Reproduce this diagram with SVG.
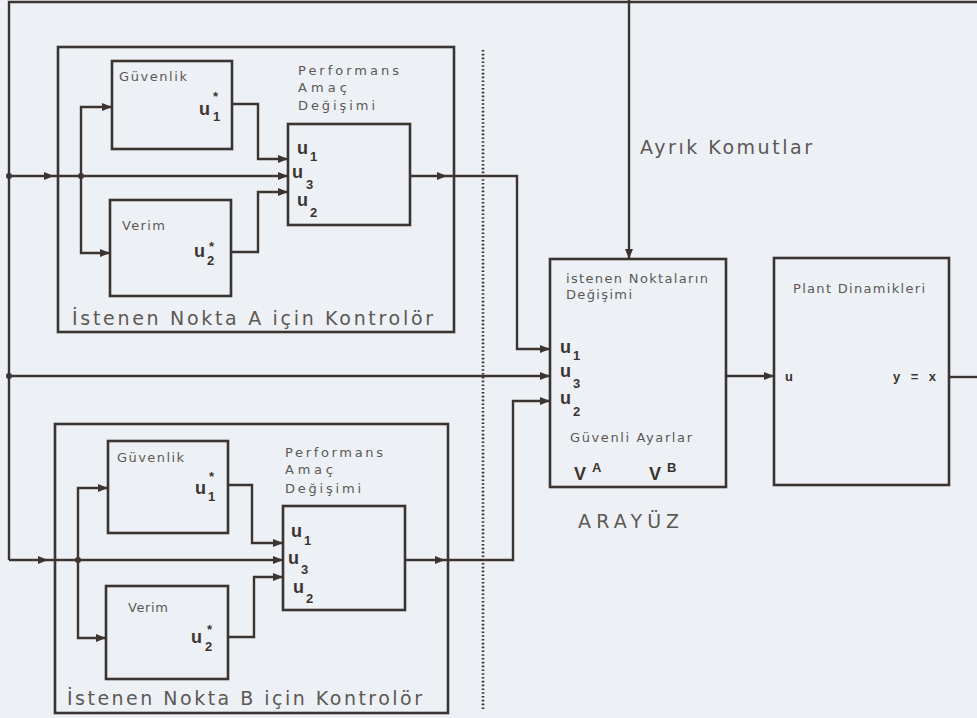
<svg xmlns="http://www.w3.org/2000/svg" width="977" height="718" viewBox="0 0 977 718">
<defs>
<style>
.bg{fill:#edf1f5}
.box{fill:none;stroke:#3b3431;stroke-width:2.6}
.ln{fill:none;stroke:#3b3431;stroke-width:2.4}
.dot{fill:none;stroke:#3b3431;stroke-width:2.6;stroke-dasharray:1.6 2.2}
.jn{fill:#3b3431}
.lbl{font-family:"DejaVu Sans","Liberation Sans",sans-serif;fill:#5c5855;font-size:13px}
.big{font-family:"DejaVu Sans","Liberation Sans",sans-serif;fill:#5c5855;font-size:19px}
.u{font-family:"Liberation Sans",Arial,sans-serif;fill:#3b3431;font-weight:bold;font-size:18px}
.s{font-family:"Liberation Sans",Arial,sans-serif;fill:#3b3431;font-weight:bold;font-size:13px}
</style>
<marker id="ah" viewBox="0 0 10 8" refX="10" refY="4" markerWidth="10" markerHeight="8" markerUnits="userSpaceOnUse" orient="auto">
<path d="M0,0 L10,4 L0,8 z" fill="#3b3431"/>
</marker>
</defs>
<rect class="bg" x="0" y="0" width="977" height="718"/>

<g id="connectors">
<path class="ln" d="M977,2 H9 V560"/>
<path class="ln" d="M9,560 H48" marker-end="url(#ah)"/>
<path class="ln" d="M48,560 H283" marker-end="url(#ah)"/>
<path class="ln" d="M9,176 H54" marker-end="url(#ah)"/>
<path class="ln" d="M54,176 H288" marker-end="url(#ah)"/>
<path class="ln" d="M9,376 H550" marker-end="url(#ah)"/>
<path class="ln" d="M629,0 V259" marker-end="url(#ah)"/>
<path class="ln" d="M81,176 V107 H112" marker-end="url(#ah)"/>
<path class="ln" d="M81,176 V253 H110" marker-end="url(#ah)"/>
<path class="ln" d="M232,104 H258 V159 H288" marker-end="url(#ah)"/>
<path class="ln" d="M231,252 H258 V192 H288" marker-end="url(#ah)"/>
<path class="ln" d="M410,176 H447" marker-end="url(#ah)"/>
<path class="ln" d="M447,176 H517 V349 H550" marker-end="url(#ah)"/>
<path class="ln" d="M78,560 V488 H108" marker-end="url(#ah)"/>
<path class="ln" d="M78,560 V638 H106" marker-end="url(#ah)"/>
<path class="ln" d="M228,485 H252 V543 H283" marker-end="url(#ah)"/>
<path class="ln" d="M228,637 H254 V577 H283" marker-end="url(#ah)"/>
<path class="ln" d="M405,560 H445" marker-end="url(#ah)"/>
<path class="ln" d="M445,560 H513 V401 H550" marker-end="url(#ah)"/>
<path class="ln" d="M726,376 H774" marker-end="url(#ah)"/>
<path class="ln" d="M949,377 H977"/>
<path class="dot" d="M483,50 V710"/>
<circle class="jn" cx="9" cy="176" r="3"/>
<circle class="jn" cx="81" cy="176" r="3"/>
<circle class="jn" cx="9" cy="376" r="3"/>
<circle class="jn" cx="78" cy="560" r="3"/>
</g>

<g id="controllerA">
<rect class="box" x="58" y="47" width="396" height="285"/>
<text class="big" x="72" y="325" textLength="361" lengthAdjust="spacing">İstenen Nokta A için Kontrolör</text>
</g>
<g id="guvenlikA">
<rect class="box" x="112" y="61" width="120" height="88"/>
<text class="lbl" x="119" y="81" textLength="68" lengthAdjust="spacing">Güvenlik</text>
<text class="u" x="199" y="115">u</text>
<text class="s"><tspan x="213" y="121">1</tspan><tspan x="213" y="101">*</tspan></text>
</g>
<g id="verimA">
<rect class="box" x="110" y="200" width="121" height="96"/>
<text class="lbl" x="122" y="230" textLength="43" lengthAdjust="spacing">Verim</text>
<text class="u" x="194" y="257">u</text>
<text class="s"><tspan x="207" y="265">2</tspan><tspan x="209" y="251">*</tspan></text>
</g>
<g id="padA">
<text class="lbl" x="298" y="75" textLength="101" lengthAdjust="spacing">Performans</text>
<text class="lbl" x="298" y="92" textLength="49" lengthAdjust="spacing">Amaç</text>
<text class="lbl" x="298" y="110" textLength="77" lengthAdjust="spacing">Değişimi</text>
<rect class="box" x="288" y="124" width="122" height="101"/>
<text class="u" x="297" y="154">u</text><text class="s" x="310" y="161">1</text>
<text class="u" x="292" y="178">u</text><text class="s" x="306" y="189">3</text>
<text class="u" x="297" y="206">u</text><text class="s" x="310" y="217">2</text>
</g>

<g id="controllerB">
<rect class="box" x="55" y="424" width="393" height="289"/>
<text class="big" x="67" y="705" textLength="355" lengthAdjust="spacing">İstenen Nokta B için Kontrolör</text>
</g>
<g id="guvenlikB">
<rect class="box" x="108" y="441" width="120" height="92"/>
<text class="lbl" x="117" y="462" textLength="67" lengthAdjust="spacing">Güvenlik</text>
<text class="u" x="195" y="494">u</text>
<text class="s"><tspan x="208" y="501">1</tspan><tspan x="209" y="481">*</tspan></text>
</g>
<g id="verimB">
<rect class="box" x="106" y="586" width="122" height="93"/>
<text class="lbl" x="128" y="612" textLength="40" lengthAdjust="spacing">Verim</text>
<text class="u" x="191" y="643">u</text>
<text class="s"><tspan x="205" y="651">2</tspan><tspan x="207" y="634">*</tspan></text>
</g>
<g id="padB">
<text class="lbl" x="285" y="457" textLength="98" lengthAdjust="spacing">Performans</text>
<text class="lbl" x="285" y="474" textLength="48" lengthAdjust="spacing">Amaç</text>
<text class="lbl" x="285" y="493" textLength="76" lengthAdjust="spacing">Değişimi</text>
<rect class="box" x="283" y="506" width="122" height="104"/>
<text class="u" x="291" y="537">u</text><text class="s" x="304" y="545">1</text>
<text class="u" x="288" y="564">u</text><text class="s" x="301" y="574">3</text>
<text class="u" x="293" y="593">u</text><text class="s" x="306" y="603">2</text>
</g>

<g id="arayuz">
<rect class="box" x="550" y="259" width="176" height="228"/>
<text class="lbl" x="566" y="283" textLength="142" lengthAdjust="spacing">istenen Noktaların</text>
<text class="lbl" x="566" y="299" textLength="66" lengthAdjust="spacing">Değişimi</text>
<text class="u" x="560" y="353">u</text><text class="s" x="573" y="360">1</text>
<text class="u" x="560" y="377">u</text><text class="s" x="573" y="388">3</text>
<text class="u" x="560" y="404">u</text><text class="s" x="573" y="416">2</text>
<text class="lbl" x="570" y="442" textLength="122" lengthAdjust="spacing">Güvenli Ayarlar</text>
<text class="u" x="574" y="480">V</text><text class="s" x="592" y="472">A</text>
<text class="u" x="649" y="480">V</text><text class="s" x="667" y="472">B</text>
<text class="big" x="578" y="528" font-size="20" textLength="101" lengthAdjust="spacing">ARAYÜZ</text>
</g>

<g id="plant">
<rect class="box" x="774" y="258" width="175" height="227"/>
<text class="lbl" x="793" y="293" textLength="132" lengthAdjust="spacing">Plant Dinamikleri</text>
<text class="s" x="785" y="381">u</text>
<text class="s" x="893" y="381" textLength="43" lengthAdjust="spacing">y = x</text>
</g>

<g id="ayrik">
<text class="big" x="640" y="154" font-size="19" textLength="172" lengthAdjust="spacing">Ayrık Komutlar</text>
</g>
</svg>
